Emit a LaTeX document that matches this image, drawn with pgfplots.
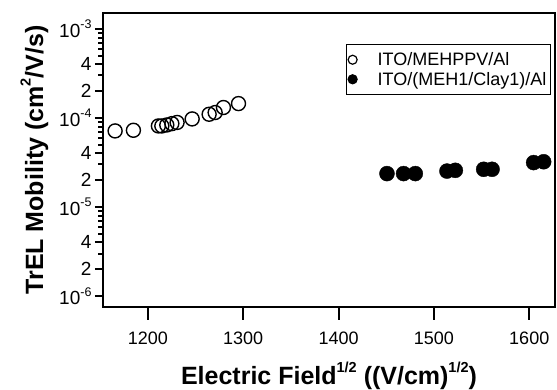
\documentclass[border=0pt]{standalone}
\usepackage{fontspec}
\setmainfont{Liberation Sans}
\usepackage{pgfplots}
\pgfplotsset{compat=1.18}
\newcommand{\tsup}[1]{\raisebox{8.5pt}{\fontsize{12.5}{12.5}\selectfont #1}}
\newcommand{\lsup}[1]{\raisebox{12.5pt}{\fontsize{14.5}{14.5}\selectfont #1}}
\pgfplotstableread{
x y
1165.7 7.15e-5
1184.9 7.27e-5
1211.1 8.13e-5
1214.7 8.13e-5
1219.9 8.34e-5
1225.2 8.63e-5
1230.7 8.90e-5
1246.5 9.75e-5
1264.3 1.10e-4
1270.6 1.15e-4
1279.3 1.31e-4
1295.1 1.45e-4
}\openpts
\pgfplotstableread{
x y
1450.8 2.37e-5
1468.2 2.37e-5
1480.5 2.37e-5
1513.7 2.53e-5
1522.5 2.58e-5
1552.2 2.65e-5
1561.0 2.65e-5
1604.6 3.15e-5
1615.1 3.22e-5
}\filledpts
\begin{document}
\begin{tikzpicture}
\begin{axis}[
  scale only axis, width=452pt, height=294pt,
  xmin=1153, xmax=1627, ymin=0, ymax=1,
  hide y axis, axis x line*=bottom,
  x axis line style={draw=none},
  tick align=outside,
  major tick length=13pt,
  tick style={line width=2pt, black},
  xtick={1200,1300,1400,1500,1600},
  xticklabels={1200,1300,1400,1500,1600},
  xticklabel style={font=\fontsize{18}{18}\selectfont, yshift=-8pt},
]
\end{axis}
\begin{axis}[
  scale only axis, width=452pt, height=294pt,
  ymode=log,
  xmin=1153, xmax=1627, ymin=7.52e-7, ymax=1.51e-3,
  axis line style={line width=2.2pt},
  tick align=outside,
  ytick pos=left,
  tick style={line width=2pt, black},
  major tick length=8pt, minor tick length=4.5pt,
  xtick=\empty,
  ytick={1e-6,2e-6,4e-6,1e-5,2e-5,4e-5,1e-4,2e-4,4e-4,1e-3},
  yticklabels={10\tsup{-6},2,4,10\tsup{-5},2,4,10\tsup{-4},2,4,10\tsup{-3}},
  minor ytick={3e-6,5e-6,6e-6,7e-6,8e-6,9e-6,3e-5,5e-5,6e-5,7e-5,8e-5,9e-5,3e-4,5e-4,6e-4,7e-4,8e-4,9e-4},
  yticklabel style={font=\fontsize{19}{19}\selectfont},
  xlabel={\textbf{Electric Field\lsup{1/2} ((V/cm)\lsup{1/2})}},
  ylabel={\textbf{TrEL Mobility (cm\lsup{2}/V/s)}},
  xlabel style={font=\fontsize{25}{25}\selectfont, at={(axis description cs:0.5,-0.265)}, anchor=base},
  ylabel style={font=\fontsize{25}{25}\selectfont, at={(axis description cs:-0.1327,0.5)}, anchor=base},
  legend cell align=left,
  legend style={at={(rel axis cs:0.991,0.895)}, anchor=north east, draw=black, line width=1.2pt,
    font=\fontsize{18}{20}\selectfont, inner xsep=2pt, inner ysep=6pt, row sep=1pt},
  legend image code/.code={\path[draw=none] (-3pt,0pt) -- (24pt,0pt); \draw[#1, mark size=4.5pt, line width=1.2pt] plot coordinates {(1pt,0pt)};},
]
\addlegendimage{mark=o, black}
\addlegendentry{ITO/MEHPPV/Al}
\addlegendimage{mark=*, black, mark options={fill=black}}
\addlegendentry{ITO/(MEH1/Clay1)/Al}
\addplot[forget plot, only marks, mark=o, mark size=7pt, mark options={line width=1.4pt, black}] table[x=x,y=y] {\openpts};
\addplot[forget plot, only marks, mark=*, mark size=7.5pt, mark options={fill=black, draw=black}] table[x=x,y=y] {\filledpts};
\end{axis}
\pgfresetboundingbox
\path[use as bounding box] (-103pt,-83pt) rectangle (454pt,307pt);
\end{tikzpicture}
\end{document}
